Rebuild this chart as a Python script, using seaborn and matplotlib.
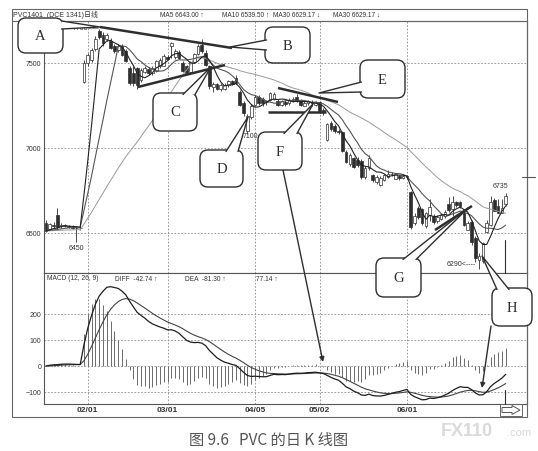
import numpy as np
import pandas as pd
import matplotlib
matplotlib.use('Agg')
import matplotlib.pyplot as plt
import seaborn as sns
from matplotlib.patches import FancyBboxPatch, Polygon, Rectangle

# PVC1401 daily bars
opens = [6560, 6520, 6548, 6605, 6540, 6545, 6540, 6536, 6530, 6528,
         7390, 7500, 7515, 7580, 7690, 7665, 7640, 7630, 7600, 7575,
         7600, 7570, 7470, 7440, 7470, 7400, 7450, 7465, 7440, 7455,
         7480, 7485, 7535, 7600, 7535, 7565, 7500, 7480, 7445, 7505,
         7555, 7605, 7560, 7480, 7360, 7375, 7345, 7350, 7370, 7395,
         7410, 7330, 7265, 7100, 7180, 7255, 7300, 7290, 7275, 7285,
         7290, 7275, 7255, 7270, 7262, 7275, 7300, 7280, 7250, 7262,
         7270, 7255, 7270, 7225, 7050, 7150, 7130, 7100, 7095, 6975,
         6905, 6940, 6930, 6925, 6830, 6880, 6840, 6800, 6785, 6812,
         6830, 6850, 6820, 6835, 6822, 6835, 6740, 6560, 6650, 6640,
         6540, 6606, 6600, 6570, 6585, 6600, 6670, 6640, 6680, 6682,
         6618, 6520, 6565, 6470, 6340, 6335, 6505, 6545, 6695, 6660,
         6620, 6670]
highs = [6575, 6560, 6565, 6650, 6560, 6555, 6548, 6545, 6535, 6540,
         7520, 7560, 7590, 7660, 7700, 7680, 7678, 7645, 7610, 7612,
         7610, 7580, 7480, 7480, 7478, 7468, 7480, 7475, 7482, 7520,
         7530, 7550, 7548, 7625, 7580, 7575, 7510, 7490, 7510, 7560,
         7610, 7640, 7575, 7490, 7390, 7385, 7380, 7382, 7402, 7402,
         7430, 7340, 7275, 7200, 7260, 7310, 7310, 7300, 7285, 7330,
         7332, 7290, 7285, 7280, 7295, 7300, 7315, 7290, 7280, 7285,
         7280, 7275, 7275, 7235, 7150, 7160, 7140, 7110, 7100, 6990,
         6970, 6950, 6945, 6935, 6895, 6960, 6850, 6840, 6835, 6850,
         6870, 6858, 6855, 6840, 6845, 6840, 6750, 6615, 6660, 6650,
         6625, 6700, 6610, 6605, 6615, 6635, 6710, 6720, 6690, 6690,
         6625, 6570, 6575, 6480, 6380, 6450, 6575, 6715, 6705, 6700,
         6700, 6735]
lows = [6505, 6515, 6530, 6525, 6530, 6535, 6532, 6525, 6450, 6520,
        7380, 7480, 7505, 7570, 7640, 7600, 7630, 7580, 7560, 7565,
        7540, 7505, 7370, 7365, 7350, 7390, 7440, 7430, 7430, 7445,
        7470, 7480, 7515, 7530, 7525, 7525, 7450, 7435, 7440, 7500,
        7545, 7560, 7480, 7350, 7330, 7340, 7335, 7340, 7360, 7368,
        7375, 7245, 7190, 7085, 7170, 7245, 7255, 7250, 7255, 7278,
        7285, 7245, 7248, 7250, 7255, 7268, 7270, 7245, 7245, 7255,
        7250, 7248, 7205, 7195, 7040, 7100, 7090, 7085, 6975, 6910,
        6895, 6880, 6890, 6820, 6820, 6870, 6800, 6790, 6778, 6805,
        6825, 6838, 6815, 6810, 6815, 6820, 6525, 6550, 6585, 6550,
        6530, 6570, 6555, 6560, 6578, 6590, 6625, 6600, 6655, 6650,
        6540, 6515, 6430, 6330, 6290, 6325, 6500, 6540, 6630, 6615,
        6615, 6660]
closes = [6512, 6552, 6540, 6535, 6550, 6540, 6538, 6530, 6528, 6532,
          7500, 7547, 7575, 7640, 7655, 7615, 7665, 7590, 7570, 7600,
          7548, 7512, 7382, 7385, 7370, 7460, 7470, 7440, 7470, 7512,
          7520, 7540, 7525, 7615, 7570, 7530, 7455, 7442, 7505, 7555,
          7600, 7570, 7490, 7362, 7375, 7345, 7370, 7372, 7395, 7375,
          7385, 7255, 7205, 7190, 7250, 7300, 7265, 7262, 7268, 7322,
          7320, 7255, 7275, 7258, 7282, 7290, 7275, 7255, 7265, 7275,
          7262, 7265, 7218, 7210, 7140, 7110, 7100, 7095, 6985, 6920,
          6958, 6890, 6900, 6830, 6885, 6940, 6812, 6830, 6822, 6840,
          6850, 6845, 6845, 6822, 6838, 6828, 6535, 6600, 6595, 6560,
          6615, 6653, 6565, 6595, 6605, 6625, 6635, 6680, 6665, 6660,
          6550, 6560, 6445, 6355, 6365, 6440, 6560, 6680, 6630, 6620,
          6650, 6720]

date_ticks = [11, 32, 55, 72, 95]
date_labels = ['02/01', '03/01', '04/05', '05/02', '06/01']
price_ticks = [6500, 7000, 7500]
macd_ticks = [-100, 0, 100, 200]
ma_header = ['MA5 6643.00 ↑', 'MA10 6539.50 ↑', 'MA30 6629.17 ↓', 'MA30 6629.17 ↓']
macd_header = ['MACD (12, 26, 9)', 'DIFF  -42.74 ↑', 'DEA  -81.30 ↑', '77.14 ↑']

INK = '#2e2e2e'
W, H = 538, 451

sns.set_theme(style='white')
plt.rcParams['font.family'] = ['Liberation Sans', 'Noto Sans CJK SC', 'DejaVu Sans']


def moving_avg(values, n):
    # warm-up: repeat the first close so the line starts on the first bar
    s = pd.Series([values[0]] * (n - 1) + list(values), dtype=float)
    return s.rolling(n).mean().iloc[n - 1:].to_numpy()


o = np.array(opens, float)
hi = np.array(highs, float)
lo = np.array(lows, float)
c = np.array(closes, float)
idx = np.arange(len(c))

df = pd.DataFrame({'bar': idx, 'ma5': moving_avg(closes, 5), 'ma10': moving_avg(closes, 10),
                   'ma30': moving_avg(closes, 30)})
cs = pd.Series(c)
df['diff'] = cs.ewm(span=12, adjust=False).mean() - cs.ewm(span=26, adjust=False).mean()
df['dea'] = df['diff'].ewm(span=9, adjust=False).mean()
df['macd'] = 2 * (df['diff'] - df['dea'])

fig = plt.figure(figsize=(W / 100, H / 100), dpi=100)
fig.patch.set_facecolor('white')
ax = fig.add_axes([44 / W, 1 - 273 / H, 483 / W, 252 / H])
ax2 = fig.add_axes([44 / W, 1 - 404 / H, 483 / W, 131 / H], sharex=ax)

# candles
ax.vlines(idx, lo, hi, color=INK, lw=0.6, zorder=2)
up = c >= o
ax.bar(idx, np.maximum(np.abs(c - o), 3), bottom=np.minimum(o, c), width=0.7,
       color=np.where(up, 'white', INK), edgecolor=INK, lw=0.5, zorder=3)

for col, colr, lw in [('ma30', '#9a9a9a', 0.7), ('ma10', '#555555', 0.8), ('ma5', '#222222', 0.8)]:
    sns.lineplot(data=df, x='bar', y=col, ax=ax, color=colr, lw=lw, estimator=None, legend=False, zorder=4)

# MACD panel
ax2.vlines(idx, 0, df['macd'], color='#6a6a6a', lw=0.7, zorder=2)
sns.lineplot(data=df, x='bar', y='dea', ax=ax2, color='#444444', lw=0.8, estimator=None, legend=False, zorder=3)
sns.lineplot(data=df, x='bar', y='diff', ax=ax2, color='#1e1e1e', lw=0.9, estimator=None, legend=False, zorder=3)

grid_kw = dict(color='#8a8a8a', lw=0.6, ls=(0, (2, 2)))
for a, ticks, lim in [(ax, price_ticks, (6265, 7747)), (ax2, macd_ticks, (-146, 358))]:
    a.set_xlim(-0.53, 126.6)
    a.set_ylim(*lim)
    a.set_yticks(ticks)
    a.set_xticks(date_ticks)
    a.grid(True, **grid_kw)
    a.set_xlabel('')
    a.set_ylabel('')
    a.tick_params(axis='y', length=0, pad=2, labelsize=5, labelcolor='#333333')
    a.tick_params(axis='x', length=0)
    for sp in a.spines.values():
        sp.set_color('#555555')
        sp.set_linewidth(0.8)
ax.tick_params(axis='x', labelbottom=False)
ax2.set_xticklabels(date_labels, fontsize=6, fontweight='bold', color='#333333')
ax2.tick_params(axis='x', pad=2)

# overlay in pixel coordinates
ov = fig.add_axes([0, 0, 1, 1])
ov.set_xlim(0, W)
ov.set_ylim(H, 0)
ov.axis('off')
ov.set_zorder(10)
ov.patch.set_alpha(0)

ov.add_patch(Rectangle((12, 9), 515, 408, fill=False, ec='#666666', lw=0.8))
ov.plot([12, 527], [21, 21], color='#666666', lw=0.8)

ov.text(13, 15, 'PVC1401  (DCE 1341)日线', fontsize=5, color='#333333', va='center')
for x, s in zip([160, 222, 273, 333], ma_header):
    ov.text(x, 15, s, fontsize=4.7, color='#333333', va='center')
for x, s in zip([47, 115, 185, 256], macd_header):
    ov.text(x, 279, s, fontsize=4.8, color='#333333', va='center')

ov.text(99, 29, '7700<—', fontsize=5, color='#333333', ha='right', va='center')
ov.text(76, 249, '6450', fontsize=5, color='#333333', ha='center', va='center')
ov.text(250, 136, '7100', fontsize=5, color='#333333', ha='center', va='center', zorder=1)
ov.text(500, 187, '6735', fontsize=5, color='#333333', ha='center', va='center')
ov.text(461, 265, '6290<----', fontsize=5, color='#333333', ha='center', va='center')

# trend lines
for (x0, y0), (x1, y1) in [((100, 27), (232, 48)), ((138, 87), (225, 65)), ((278, 88), (338, 102)),
                           ((268, 112), (326, 112)), ((435, 230), (472, 206))]:
    ov.plot([x0, x1], [y0, y1], color=INK, lw=1.8, solid_capstyle='butt', zorder=2)


def callout(box, letter, base, tip):
    x0, y0, x1, y1 = box
    ov.add_patch(FancyBboxPatch((x0 + 7, y0 + 7), x1 - x0 - 14, y1 - y0 - 14,
                                boxstyle='round,pad=7,rounding_size=8', fc='white', ec=INK, lw=1.0, zorder=5))
    (bx0, by0), (bx1, by1) = base
    ov.add_patch(Polygon([(bx0, by0), tip, (bx1, by1)], closed=True, fc='white', ec='none', zorder=6))
    ov.plot([bx0, tip[0], bx1], [by0, tip[1], by1], color=INK, lw=1.0, zorder=7)
    ov.text((x0 + x1) / 2, (y0 + y1) / 2 + 1, letter, fontsize=10.5, family='Liberation Serif',
            color=INK, ha='center', va='center', zorder=8)


callout((18, 18, 63, 53), 'A', ((61.5, 21), (61.5, 29)), (100, 27))
callout((265, 27, 310, 63), 'B', ((266.5, 40), (266.5, 50)), (230, 47))
callout((153, 93, 197, 131), 'C', ((183, 94.5), (195, 94.5)), (211, 67))
callout((200, 150, 243, 187), 'D', ((226, 151.5), (238, 151.5)), (248, 117))
callout((360, 60, 405, 98), 'E', ((361.5, 82), (361.5, 92)), (319, 93))
callout((258, 132, 302, 170), 'F', ((284, 133.5), (297, 133.5)), (313, 104))
callout((376, 258, 421, 297), 'G', ((403, 259.5), (416, 259.5)), (468, 208))
callout((492, 288, 532, 326), 'H', ((497, 289.5), (509, 289.5)), (482, 256))

arrow_kw = dict(arrowstyle='-|>', color=INK, lw=1.0, mutation_scale=7, shrinkA=0, shrinkB=0)
ov.annotate('', xy=(323, 362), xytext=(283, 170), arrowprops=arrow_kw, zorder=4)
ov.annotate('', xy=(482, 388), xytext=(491, 326), arrowprops=arrow_kw, zorder=4)

# cursor marks at the right edge
ov.plot([505, 505], [240, 273], color=INK, lw=0.8)
ov.plot([505, 505], [390, 404], color=INK, lw=0.8)
ov.plot([522, 535], [177, 177], color='#555555', lw=0.8)
ov.add_patch(Rectangle((500, 404), 22, 12, fill=False, ec='#666666', lw=0.7))
ov.add_patch(Polygon([(502, 407.5), (512, 407.5), (512, 405.5), (520, 410), (512, 414.5), (512, 412.5), (502, 412.5)],
                     closed=True, fill=False, ec='#555555', lw=0.7))

ov.text(269, 440, '图 9.6   PVC 的日 K 线图', fontsize=11, color='#555555', ha='center', va='center',
        family=['Noto Sans CJK SC', 'DejaVu Sans'])
ov.text(467, 431, 'FX110', fontsize=13, fontweight='bold', color='#dadada', ha='center', va='center')
ov.text(507, 433, '.com', fontsize=8, color='#dadada', ha='left', va='center')

fig.savefig('out.png', dpi=100)
